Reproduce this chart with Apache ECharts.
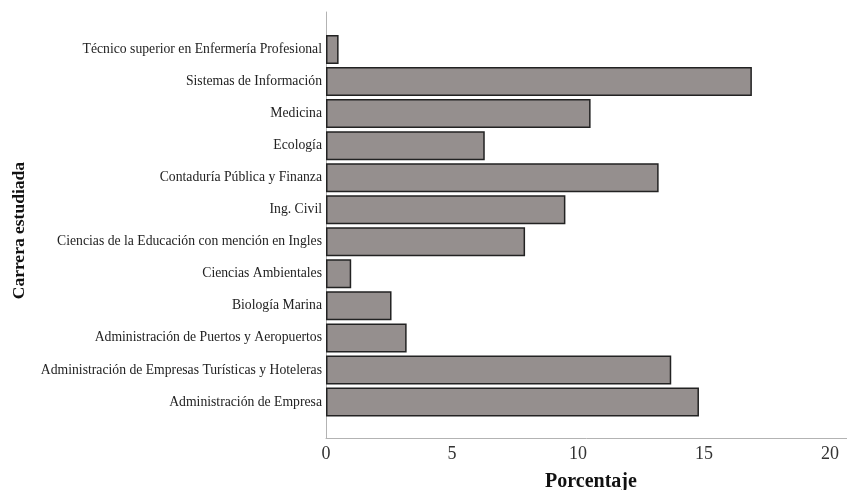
<!DOCTYPE html>
<html>
<head>
<meta charset="utf-8">
<script src="https://cdn.jsdelivr.net/npm/echarts@6/dist/echarts.min.js"></script>
<style>html,body{margin:0;padding:0;background:#fff}#c{width:847px;height:490px}</style>
</head>
<body>
<div id="c"></div>
<script>
const categories = [
  "Técnico superior en Enfermería Profesional",
  "Sistemas de Información",
  "Medicina",
  "Ecología",
  "Contaduría Pública y Finanza",
  "Ing. Civil",
  "Ciencias de la Educación con mención en Ingles",
  "Ciencias Ambientales",
  "Biología Marina",
  "Administración de Puertos y Aeropuertos",
  "Administración de Empresas Turísticas y Hoteleras",
  "Administración de Empresa"
];
const values = [0.5, 16.9, 10.5, 6.3, 13.2, 9.5, 7.9, 1.0, 2.6, 3.2, 13.7, 14.8];
const xTicks = [0, 5, 10, 15, 20];

const font = "Liberation Serif";
const xMax = 20 + 17 / 25.2;
const chart = echarts.init(document.getElementById('c'));
chart.setOption({
  animation: false,
  grid: [
    {left: 326, right: 0, top: 33.5, bottom: 72, outerBoundsMode: 'none', containLabel: false},
    {left: 326, right: 0, top: 12, bottom: 52, outerBoundsMode: 'none', containLabel: false}
  ],
  xAxis: [
    {gridIndex: 0, type: 'value', min: 0, max: xMax, show: false},
    {gridIndex: 1, type: 'value', min: 0, max: xMax, interval: 5,
     axisLine: {show: true, lineStyle: {color: '#b3b3b3', width: 1}},
     axisTick: {show: false}, splitLine: {show: false},
     axisLabel: {color: '#333', fontFamily: font, fontSize: 18, margin: 7, showMaxLabel: false,
       formatter: v => xTicks.includes(v) ? String(v) : ''},
     name: 'Porcentaje', nameLocation: 'middle', nameGap: 34,
     nameTextStyle: {fontFamily: font, fontWeight: 'bold', fontSize: 20, color: '#111', padding: [0, 0, 0, 9]}}
  ],
  yAxis: [
    {gridIndex: 0, type: 'category', data: categories, inverse: true,
     axisLine: {show: false}, axisTick: {show: false},
     axisLabel: {color: '#222', fontFamily: font, fontSize: 13.7, margin: 4}},
    {gridIndex: 1, type: 'value', min: 0, max: 1,
     axisLine: {show: true, lineStyle: {color: '#b3b3b3', width: 1}},
     axisTick: {show: false}, axisLabel: {show: false}, splitLine: {show: false}}
  ],
  graphic: [{
    type: 'text', left: 10, top: 162, rotation: Math.PI / 2,
    style: {text: 'Carrera estudiada', font: 'bold 17.5px "Liberation Serif"', fill: '#111'}
  }],
  series: [{
    type: 'bar', xAxisIndex: 0, yAxisIndex: 0, data: values, barWidth: 29,
    itemStyle: {color: '#958f8e', borderColor: '#222', borderWidth: 1.5}
  }]
});
</script>
</body>
</html>
